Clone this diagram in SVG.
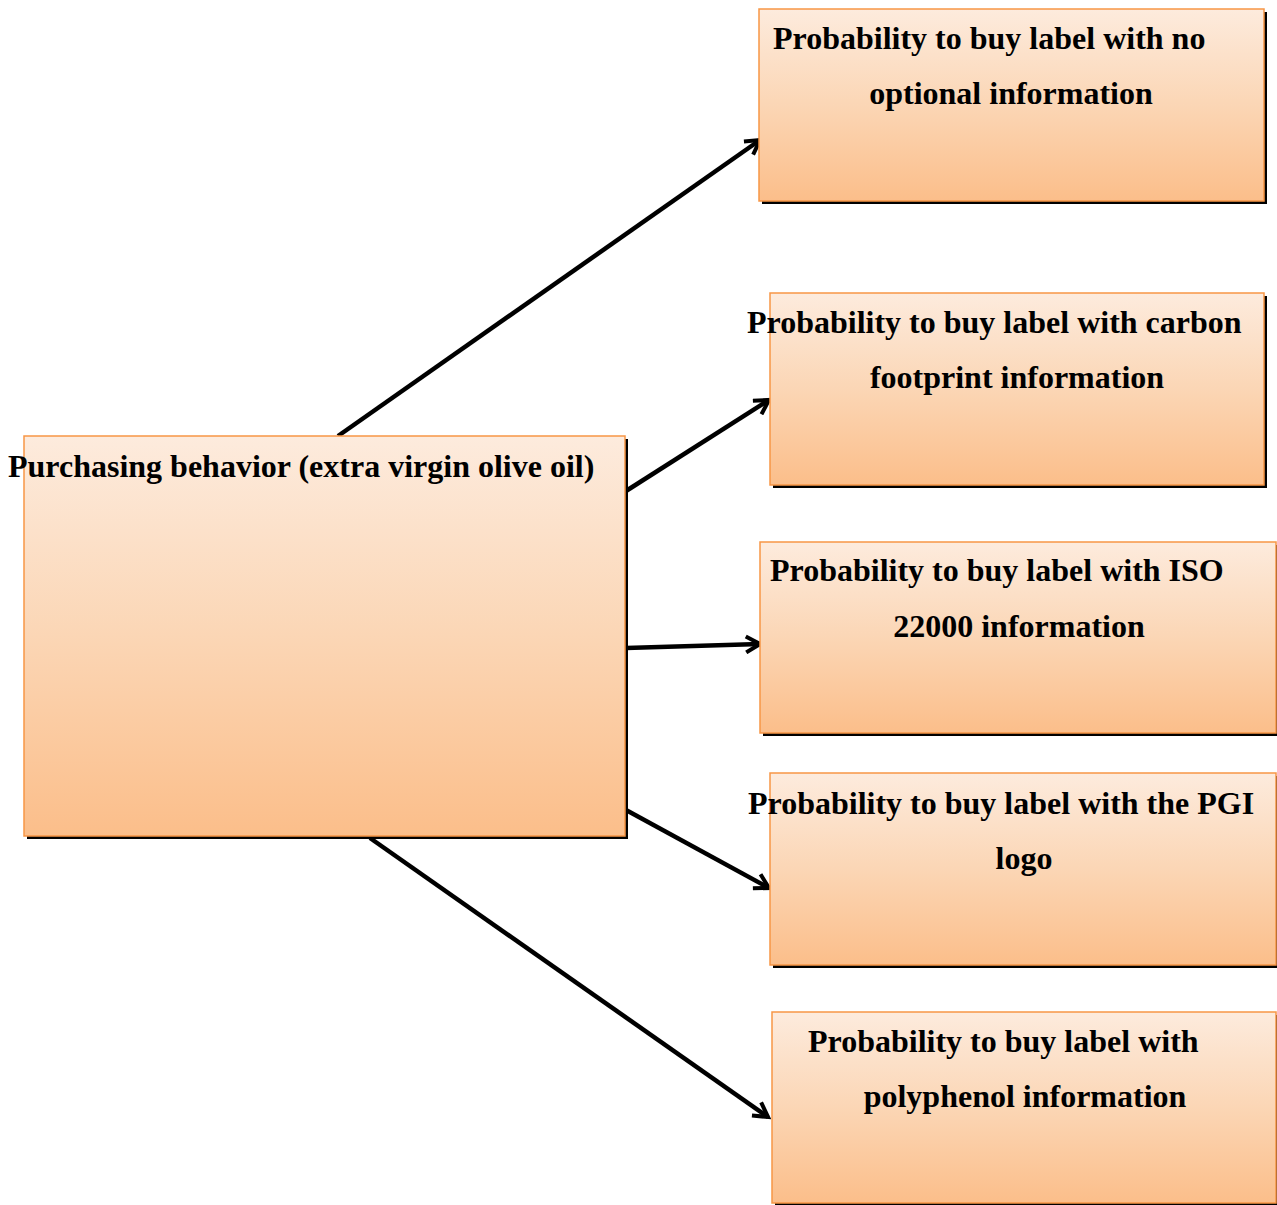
<svg xmlns="http://www.w3.org/2000/svg" width="1277" height="1205" viewBox="0 0 1277 1205">
<style>
.box{fill:url(#g);stroke:#F79646;stroke-width:1.5}
.sh{fill:#000}
.t{font-family:"Liberation Serif","Times New Roman",serif;font-weight:bold;font-size:32px;fill:#000}
.c{stroke:#000;stroke-width:4.5;fill:none;marker-end:url(#ah)}
</style>
<defs>
<linearGradient id="g" x1="0" y1="0" x2="0" y2="1">
<stop offset="0" stop-color="#FDEBDD"/>
<stop offset="0.5" stop-color="#FBD6B5"/>
<stop offset="1" stop-color="#FBBE8A"/>
</linearGradient>
<marker id="ah" markerWidth="20" markerHeight="20" refX="16" refY="10" orient="auto" markerUnits="userSpaceOnUse">
<path d="M2,2 L16,10 L2,18" fill="none" stroke="#000" stroke-width="4"/>
</marker>
</defs>
<g id="connectors">
<line class="c" x1="338" y1="436" x2="760" y2="140"/>
<line class="c" x1="626" y1="491" x2="769" y2="400"/>
<line class="c" x1="626" y1="648" x2="760" y2="644"/>
<line class="c" x1="626" y1="810" x2="769" y2="888"/>
<line class="c" x1="370" y1="838" x2="768" y2="1117"/>
</g>
<g id="main">
<rect class="sh" x="27" y="439" width="601" height="400"/>
<rect class="box" x="24" y="436" width="601" height="400"/>
<text class="t" x="8" y="477">Purchasing behavior (extra virgin olive oil)</text>
</g>
<g id="n1">
<rect class="sh" x="762" y="12" width="505" height="192"/>
<rect class="box" x="759" y="9" width="505" height="192"/>
<text class="t" x="773" y="49">Probability to buy label with no</text>
<text class="t" x="1011" y="104" text-anchor="middle">optional information</text>
</g>
<g id="n2">
<rect class="sh" x="773" y="296" width="494" height="192"/>
<rect class="box" x="770" y="293" width="494" height="192"/>
<text class="t" x="747" y="333">Probability to buy label with carbon</text>
<text class="t" x="1017" y="388" text-anchor="middle">footprint information</text>
</g>
<g id="n3">
<rect class="sh" x="763" y="545" width="516" height="191"/>
<rect class="box" x="760" y="542" width="516" height="191"/>
<text class="t" x="770" y="581">Probability to buy label with ISO</text>
<text class="t" x="1019" y="637" text-anchor="middle">22000 information</text>
</g>
<g id="n4">
<rect class="sh" x="773" y="776" width="506" height="192"/>
<rect class="box" x="770" y="773" width="506" height="192"/>
<text class="t" x="748" y="814">Probability to buy label with the PGI</text>
<text class="t" x="1024" y="869" text-anchor="middle">logo</text>
</g>
<g id="n5">
<rect class="sh" x="775" y="1015" width="504" height="191"/>
<rect class="box" x="772" y="1012" width="504" height="191"/>
<text class="t" x="808" y="1052">Probability to buy label with</text>
<text class="t" x="1025" y="1107" text-anchor="middle">polyphenol information</text>
</g>
</svg>
